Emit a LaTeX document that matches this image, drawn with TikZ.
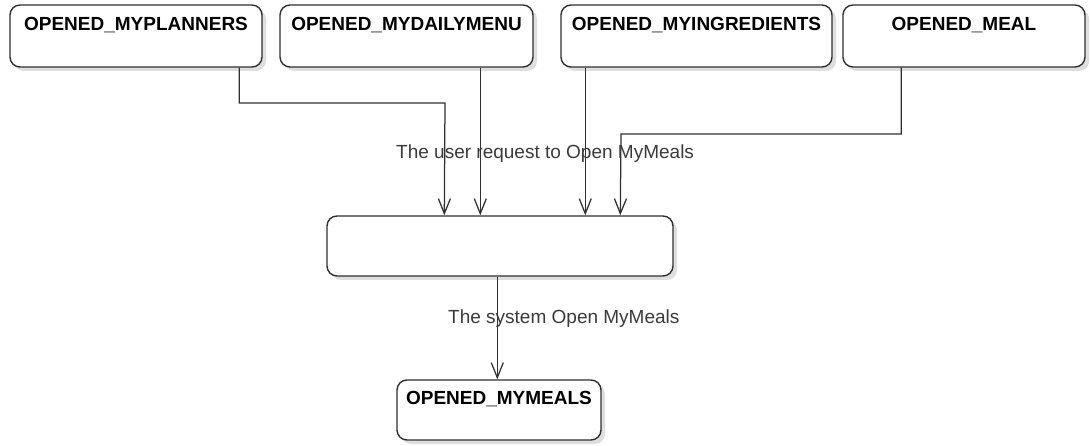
\documentclass[tikz,border=0pt]{standalone}
\usepackage{fontspec}
\setmainfont{Liberation Sans}
\usetikzlibrary{arrows.meta,shadows,calc}

\definecolor{linegray}{HTML}{303030}
\definecolor{labelgray}{HTML}{3A3A3A}

\tikzset{
  state/.style={draw=linegray, line width=1.4pt, rounded corners=10pt, fill=white,
    inner sep=0pt, text height=26pt, text depth=36pt, font=\fontsize{19}{22}\selectfont\bfseries,
    drop shadow={shadow xshift=4pt, shadow yshift=-4pt, fill=black, opacity=0.13}},
  conn/.style={draw=linegray, line width=1.25pt,
    -{Straight Barb[length=15pt,width=12pt,line width=1.25pt]}},
  edgelabel/.style={inner sep=0pt, text=labelgray, font=\fontsize{19}{22}\selectfont}
}

\begin{document}
\begin{tikzpicture}[x=1pt,y=-1pt]
  \useasboundingbox (0,0) rectangle (1090,446);

  % source states
  \node[state, minimum width=252pt] (planners) at (136,36) {OPENED\_MYPLANNERS};
  \node[state, minimum width=253pt] (daily) at (406.5,36) {OPENED\_MYDAILYMENU};
  \node[state, minimum width=271pt] (ingred) at (696.5,36) {OPENED\_MYINGREDIENTS};
  \node[state, minimum width=242pt] (meal) at (964,36) {OPENED\_MEAL};

  % unnamed decision state
  \node[state, minimum width=346pt, text height=30pt, text depth=30pt] (hub) at (500,246) {};

  % target state
  \node[state, minimum width=204pt, text height=24pt, text depth=36pt] (mymeals) at (499,410) {OPENED\_MYMEALS};

  % requests from the source states
  \draw[conn] ($(planners.south west)+(230,0)$) |- (445,103) -- ($(hub.north west)+(118,0)$);
  \draw[conn] ($(daily.south west)+(201,0)$) -- ($(hub.north west)+(154,0)$);
  \draw[conn] ($(ingred.south west)+(25,0)$) -- ($(hub.north west)+(259,0)$);
  \draw[conn] ($(meal.south west)+(59,0)$) |- (621,134) -- ($(hub.north west)+(294,0)$);

  % system response
  \draw[conn] ($(hub.south west)+(171,0)$) -- ($(mymeals.north west)+(101,0)$);

  % transition labels
  \node[edgelabel, anchor=base west] (reqlabel) at (396,159) {The user request to Open MyMeals};
  \node[edgelabel, anchor=base west] (syslabel) at (448,324) {The system Open MyMeals};
\end{tikzpicture}
\end{document}
